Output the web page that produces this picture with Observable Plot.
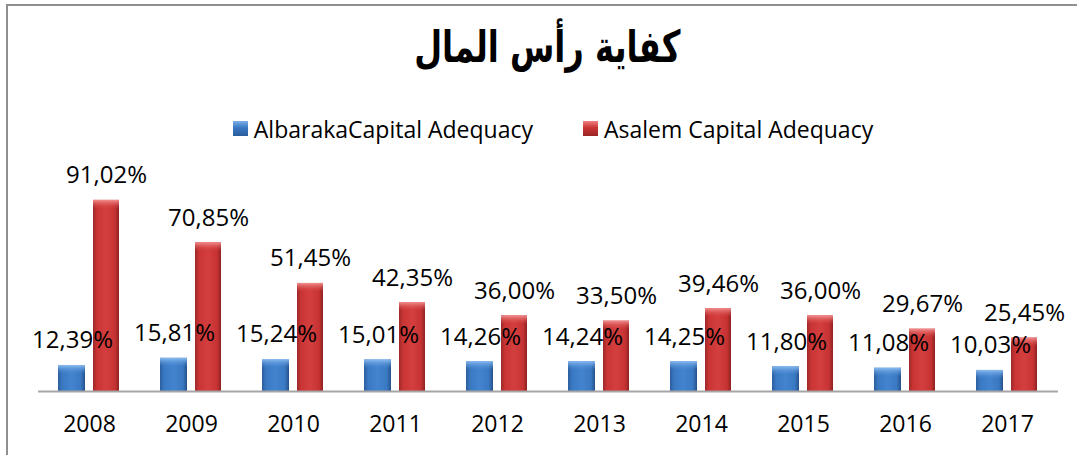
<!DOCTYPE html>
<html>
<head>
<meta charset="utf-8">
<script src="https://cdn.jsdelivr.net/npm/d3@7"></script>
<script src="https://cdn.jsdelivr.net/npm/@observablehq/plot@0.6"></script>
<style>
  body { margin: 0; background: #fff; }
  #root { position: relative; width: 1077px; height: 455px; overflow: hidden; background: #fff; }
  #frame { position: absolute; left: 6px; top: 4px; right: -10px; bottom: -10px;
           border-left: 2px solid #8f8f8f; border-top: 2px solid #8f8f8f; }
  #title { position: absolute; top: 21px; left: 0; width: 1094px; text-align: center;
           font: bold 44px "DejaVu Sans", sans-serif; color: #000; }
  #title span { display: inline-block; transform: scaleX(0.73); }
  #legend { position: absolute; top: 111px; left: 0; width: 1106px; text-align: center;
            font: 23px "Open Sans", sans-serif; color: #000; white-space: nowrap; }
  #legend .item { display: inline-flex; align-items: center; margin: 0 25px; }
  #legend .sw { width: 15px; height: 15px; margin-right: 6px; display: inline-block; }
  #chart { position: absolute; left: 0; top: 150px; }
</style>
</head>
<body>
<div id="root">
  <div id="frame"></div>
  <div id="title" dir="rtl"><span>كفاية رأس المال</span></div>
  <div id="legend"></div>
  <div id="chart"></div>
</div>
<script>
const years = ["2008","2009","2010","2011","2012","2013","2014","2015","2016","2017"];
const albaraka = [12.39, 15.81, 15.24, 15.01, 14.26, 14.24, 14.25, 11.80, 11.08, 10.03];
const asalem = [91.02, 70.85, 51.45, 42.35, 36.00, 33.50, 39.46, 36.00, 29.67, 25.45];
const seriesNames = ["AlbarakaCapital Adequacy", "Asalem Capital Adequacy"];
const seriesColors = ["#3a78c2", "#c93434"];

const data = years.map((y, i) => ({year: y, albaraka: albaraka[i], asalem: asalem[i]}));
const fmt = v => v.toFixed(2).replace(".", ",") + "%";

// legend
const legend = document.getElementById("legend");
seriesNames.forEach((name, i) => {
  const item = document.createElement("span");
  item.className = "item";
  const sw = document.createElement("span");
  sw.className = "sw";
  sw.style.background = i === 0
    ? "linear-gradient(to bottom, #7fb0e8 0%, #3a78c2 45%, #2a5c9a 100%)"
    : "linear-gradient(to bottom, #f08080 0%, #c93434 45%, #9a2626 100%)";
  item.appendChild(sw);
  item.appendChild(document.createTextNode(name));
  legend.appendChild(item);
});

const defs = () => {
  const g = document.createElementNS("http://www.w3.org/2000/svg", "defs");
  g.innerHTML = `
    <linearGradient id="gBlue" x1="0" x2="1" y1="0" y2="0">
      <stop offset="0" stop-color="#2b5e9e"/>
      <stop offset="0.15" stop-color="#3a78c2"/>
      <stop offset="0.5" stop-color="#4384cf"/>
      <stop offset="0.85" stop-color="#3a78c2"/>
      <stop offset="1" stop-color="#24528a"/>
    </linearGradient>
    <linearGradient id="gRed" x1="0" x2="1" y1="0" y2="0">
      <stop offset="0" stop-color="#9c2828"/>
      <stop offset="0.15" stop-color="#c93434"/>
      <stop offset="0.5" stop-color="#d43e3e"/>
      <stop offset="0.85" stop-color="#c63232"/>
      <stop offset="1" stop-color="#8e2222"/>
    </linearGradient>
    <linearGradient id="gBlueTop" x1="0" x2="0" y1="0" y2="1">
      <stop offset="0" stop-color="#8cbcf0"/>
      <stop offset="1" stop-color="#4a8ad4" stop-opacity="0"/>
    </linearGradient>
    <linearGradient id="gRedTop" x1="0" x2="0" y1="0" y2="1">
      <stop offset="0" stop-color="#f29090"/>
      <stop offset="1" stop-color="#d84242" stop-opacity="0"/>
    </linearGradient>`;
  return g;
};

const chart = Plot.plot({
  width: 1077,
  height: 305,
  marginLeft: 38,
  marginRight: 19,
  marginTop: 31,
  marginBottom: 64,
  style: {background: "transparent", fontFamily: "'Open Sans', sans-serif"},
  x: {domain: years, padding: 0},
  y: {domain: [0, 100], axis: null},
  marks: [
    defs,
    Plot.barY(data, {x: "year", y: "albaraka", fill: "url(#gBlue)", insetLeft: 20, insetRight: 55}),
    Plot.barY(data, {x: "year", y: "asalem", fill: "url(#gRed)", insetLeft: 55, insetRight: 21}),
    Plot.barY(data, {x: "year", y1: "albaraka", y2: "albaraka", fill: "url(#gBlueTop)", insetLeft: 20, insetRight: 55, insetBottom: -9}),
    Plot.barY(data, {x: "year", y1: "asalem", y2: "asalem", fill: "url(#gRedTop)", insetLeft: 55, insetRight: 21, insetBottom: -9}),
    Plot.ruleY([0], {stroke: "#a6a6a6", strokeWidth: 2}),
    Plot.text(data, {x: "year", y: "albaraka", text: d => fmt(d.albaraka), dx: -17, dy: -17, lineAnchor: "bottom", fontSize: 24, fill: "#000"}),
    Plot.text(data, {x: "year", y: "asalem", text: d => fmt(d.asalem), dx: 17, dy: -17, lineAnchor: "bottom", fontSize: 24, fill: "#000"}),
    Plot.axisX({tickSize: 0, tickPadding: 24, fontSize: 23, label: null, fill: "#000"})
  ]
});
document.getElementById("chart").appendChild(chart);
</script>
</body>
</html>
